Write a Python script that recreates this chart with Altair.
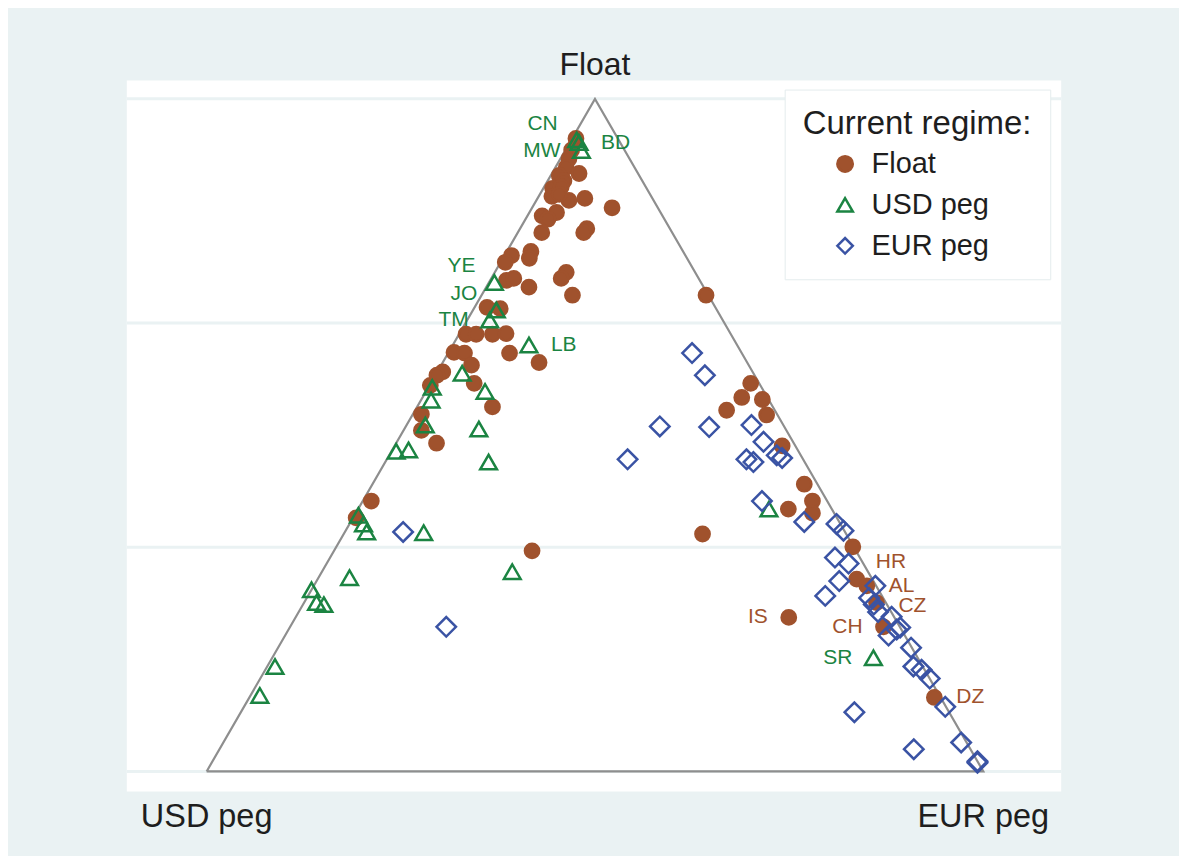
import math
import altair as alt
import pandas as pd

REGIMES = ["Float", "USD peg", "EUR peg"]
COLORS = ["#A0522D", "#1B8442", "#3A53A4"]
SHAPES = ["circle", "triangle-up", "diamond"]
VERTEX_NAMES = ["Float", "USD peg", "EUR peg"]
GRID_LEVELS = [0, 1 / 3, 2 / 3, 1]  # float-share levels of horizontal gridlines

# --- Countries currently floating: (float share, EUR share); USD share = rest
float_f = [0.941, 0.924, 0.911, 0.898, 0.889, 0.886, 0.878, 0.867, 0.869, 0.849,
           0.852, 0.855, 0.838, 0.826, 0.831, 0.821, 0.807, 0.801, 0.801, 0.858,
           0.767, 0.757, 0.773, 0.763, 0.742, 0.733, 0.730, 0.733, 0.720, 0.708,
           0.690, 0.688, 0.650, 0.650, 0.650, 0.651, 0.622, 0.608, 0.623, 0.622,
           0.604, 0.594, 0.589, 0.574, 0.577, 0.542, 0.531, 0.507, 0.488, 0.402,
           0.377, 0.328,
           0.708, 0.577, 0.556, 0.553, 0.537, 0.530, 0.484, 0.427, 0.402, 0.390,
           0.384, 0.353, 0.334, 0.286, 0.276, 0.251, 0.215, 0.229, 0.110]
float_e = [0.005, 0.008, 0.011, 0.014, 0.035, 0.011, 0.021, 0.012, 0.022, 0.042,
           0.061, 0.017, 0.103, 0.019, 0.035, 0.029, 0.086, 0.085, 0.031, 0.025,
           0.009, 0.006, 0.031, 0.034, 0.092, 0.090, 0.021, 0.029, 0.055, 0.117,
           0.016, 0.034, 0.009, 0.022, 0.043, 0.060, 0.079, 0.124, 0.007, 0.021,
           0.039, 0.007, 0.002, 0.001, 0.056, 0.097, 0.011, 0.023, 0.052, 0.011,
           0.004, 0.255,
           0.289, 0.412, 0.411, 0.439, 0.401, 0.456, 0.499, 0.556, 0.579, 0.554,
           0.588, 0.462, 0.665, 0.694, 0.712, 0.737, 0.764, 0.635, 0.882]

# --- Countries currently pegged to USD
usd_f = [0.939, 0.935, 0.923, 0.727, 0.686, 0.671, 0.634, 0.592, 0.571, 0.552,
         0.565, 0.515, 0.509, 0.476, 0.478, 0.460, 0.381, 0.368, 0.356, 0.355,
         0.288, 0.297, 0.270, 0.251, 0.248, 0.156, 0.113, 0.390, 0.169]
usd_e = [0.007, 0.012, 0.021, 0.007, 0.030, 0.029, 0.098, 0.033, 0.005, 0.013,
         0.076, 0.024, 0.096, 0.006, 0.021, 0.133, 0.005, 0.018, 0.028, 0.102,
         0.040, 0.245, 0.000, 0.016, 0.027, 0.010, 0.012, 0.529, 0.774]

# --- Countries currently pegged to EUR
eur_f = [0.622, 0.589, 0.513, 0.512, 0.515, 0.490, 0.464, 0.464, 0.460, 0.470,
         0.466, 0.402, 0.371, 0.368, 0.358, 0.318, 0.309, 0.283, 0.261, 0.276,
         0.258, 0.248, 0.237, 0.230, 0.214, 0.202, 0.211, 0.184, 0.156, 0.151,
         0.138, 0.096, 0.088, 0.033, 0.043, 0.013, 0.015, 0.356, 0.215]
eur_e = [0.314, 0.347, 0.327, 0.391, 0.444, 0.472, 0.310, 0.463, 0.474, 0.499,
         0.508, 0.514, 0.584, 0.627, 0.641, 0.650, 0.672, 0.673, 0.666, 0.723,
         0.724, 0.735, 0.746, 0.767, 0.786, 0.777, 0.783, 0.815, 0.832, 0.845,
         0.862, 0.903, 0.790, 0.894, 0.950, 0.986, 0.985, 0.075, 0.201]

# --- Labelled countries
label_codes = ["CN", "BD", "MW", "YE", "JO", "TM", "LB", "SR",
               "HR", "AL", "CZ", "CH", "IS", "DZ"]
label_regime = ["USD peg"] * 8 + ["Float"] * 6
label_index = [0, 1, 2, 3, 4, 5, 6, 28, 64, 66, 67, 68, 69, 70]
label_side = ["upper-left", "right", "left", "upper-left", "upper-left", "left", "right", "left",
              "lower-right", "right", "right-low", "left", "left", "right"]

SQ3 = math.sqrt(3) / 2


def cart(df):
    df["x"] = df["eur"] + df["float"] / 2
    df["y"] = df["float"] * SQ3
    return df


shares = {
    "Float": (float_f, float_e),
    "USD peg": (usd_f, usd_e),
    "EUR peg": (eur_f, eur_e),
}
pts = pd.concat(
    [pd.DataFrame({"regime": r, "float": shares[r][0], "eur": shares[r][1]}) for r in REGIMES],
    ignore_index=True,
)
pts["usd"] = 1 - pts["float"] - pts["eur"]
pts = cart(pts)

labs = pd.DataFrame({
    "code": label_codes,
    "regime": label_regime,
    "side": label_side,
    "float": [shares[r][0][i] for r, i in zip(label_regime, label_index)],
    "eur": [shares[r][1][i] for r, i in zip(label_regime, label_index)],
})
labs = cart(labs)

verts = pd.DataFrame({"name": VERTEX_NAMES, "float": [1.0, 0.0, 0.0], "eur": [0.0, 0.0, 1.0]})
verts = cart(verts)
outline = verts.iloc[[1, 2, 0, 1]].reset_index(drop=True)
outline["k"] = range(len(outline))

grid = pd.DataFrame({"float": GRID_LEVELS})
grid["y"] = grid["float"] * SQ3

FONT = "Liberation Sans"
xs = alt.Scale(domain=[-0.1028, 1.1003], nice=False, zero=False)
ys = alt.Scale(domain=[-0.0257, 0.8895], nice=False, zero=False)
X = alt.X("x:Q", scale=xs, axis=None)
Y = alt.Y("y:Q", scale=ys, axis=None)

grid_layer = alt.Chart(grid).mark_rule(color="#EAF2F3", strokeWidth=3).encode(
    y=alt.Y("y:Q", scale=ys, axis=None))

tri_layer = alt.Chart(outline).mark_line(color="#8E8E8E", strokeWidth=2.2).encode(
    x=X, y=Y, order="k:Q")

leg = alt.Legend(title="Current regime:", orient="none", legendX=659, legendY=9, titleLimit=600)
shape_enc = alt.Shape("regime:N", scale=alt.Scale(domain=REGIMES, range=SHAPES), legend=leg)
stroke_enc = alt.Stroke("regime:N", scale=alt.Scale(domain=REGIMES, range=COLORS), legend=leg)
fill_enc = alt.Fill("regime:N",
                    scale=alt.Scale(domain=REGIMES, range=[COLORS[0], "transparent", "transparent"]),
                    legend=leg)

SIZES = {"Float": 205, "USD peg": 280, "EUR peg": 380}
pt_layers = []
for r in REGIMES:
    pt_layers.append(
        alt.Chart(pts).transform_filter(alt.datum.regime == r).mark_point(
            strokeWidth=2.5, opacity=1, size=SIZES[r]
        ).encode(x=X, y=Y, shape=shape_enc, stroke=stroke_enc, fill=fill_enc)
    )

side_params = {
    "left": dict(align="right", dx=-21, dy=0),
    "right": dict(align="left", dx=22, dy=0),
    "right-low": dict(align="left", dx=22, dy=3),
    "upper-left": dict(align="right", dx=-19, dy=-16),
    "lower-right": dict(align="left", dx=23, dy=15),
}
label_layers = []
for r, col in zip(REGIMES[:2], COLORS[:2]):
    for side, p in side_params.items():
        label_layers.append(
            alt.Chart(labs).transform_filter(
                (alt.datum.side == side) & (alt.datum.regime == r)
            ).mark_text(font=FONT, fontSize=21, baseline="middle", color=col, **p)
            .encode(x=X, y=Y, text="code:N")
        )

vtop = alt.Chart(verts).transform_filter(alt.datum.name == "Float").mark_text(
    font=FONT, fontSize=32, color="#1E1E1E", baseline="middle", align="center", dy=-34
).encode(x=X, y=Y, text="name:N")
vbot = alt.Chart(verts).transform_filter(alt.datum.name != "Float").mark_text(
    font=FONT, fontSize=32.5, color="#1E1E1E", baseline="middle", align="center", dy=46
).encode(x=X, y=Y, text="name:N")

chart = alt.layer(grid_layer, tri_layer, *pt_layers, *label_layers, vtop, vbot).properties(
    width=936, height=712,
    padding={"left": 119, "top": 72, "right": 118, "bottom": 64},
    autosize=alt.AutoSizeParams(type="none"),
    background="#EAF2F3",
).configure_view(fill="white", stroke=None).configure_legend(
    fillColor="white", strokeColor="#E4ECED", padding=18, cornerRadius=0,
    titleFont=FONT, titleFontSize=33, titleFontWeight="normal", titleColor="#1E1E1E",
    titlePadding=9, labelFont=FONT, labelFontSize=29, labelColor="#1E1E1E",
    symbolSize=240, symbolStrokeWidth=2.5, rowPadding=11, symbolOffset=28, labelOffset=12,
)

chart.save("out.html", embed_options={"renderer": "svg", "actions": False})
